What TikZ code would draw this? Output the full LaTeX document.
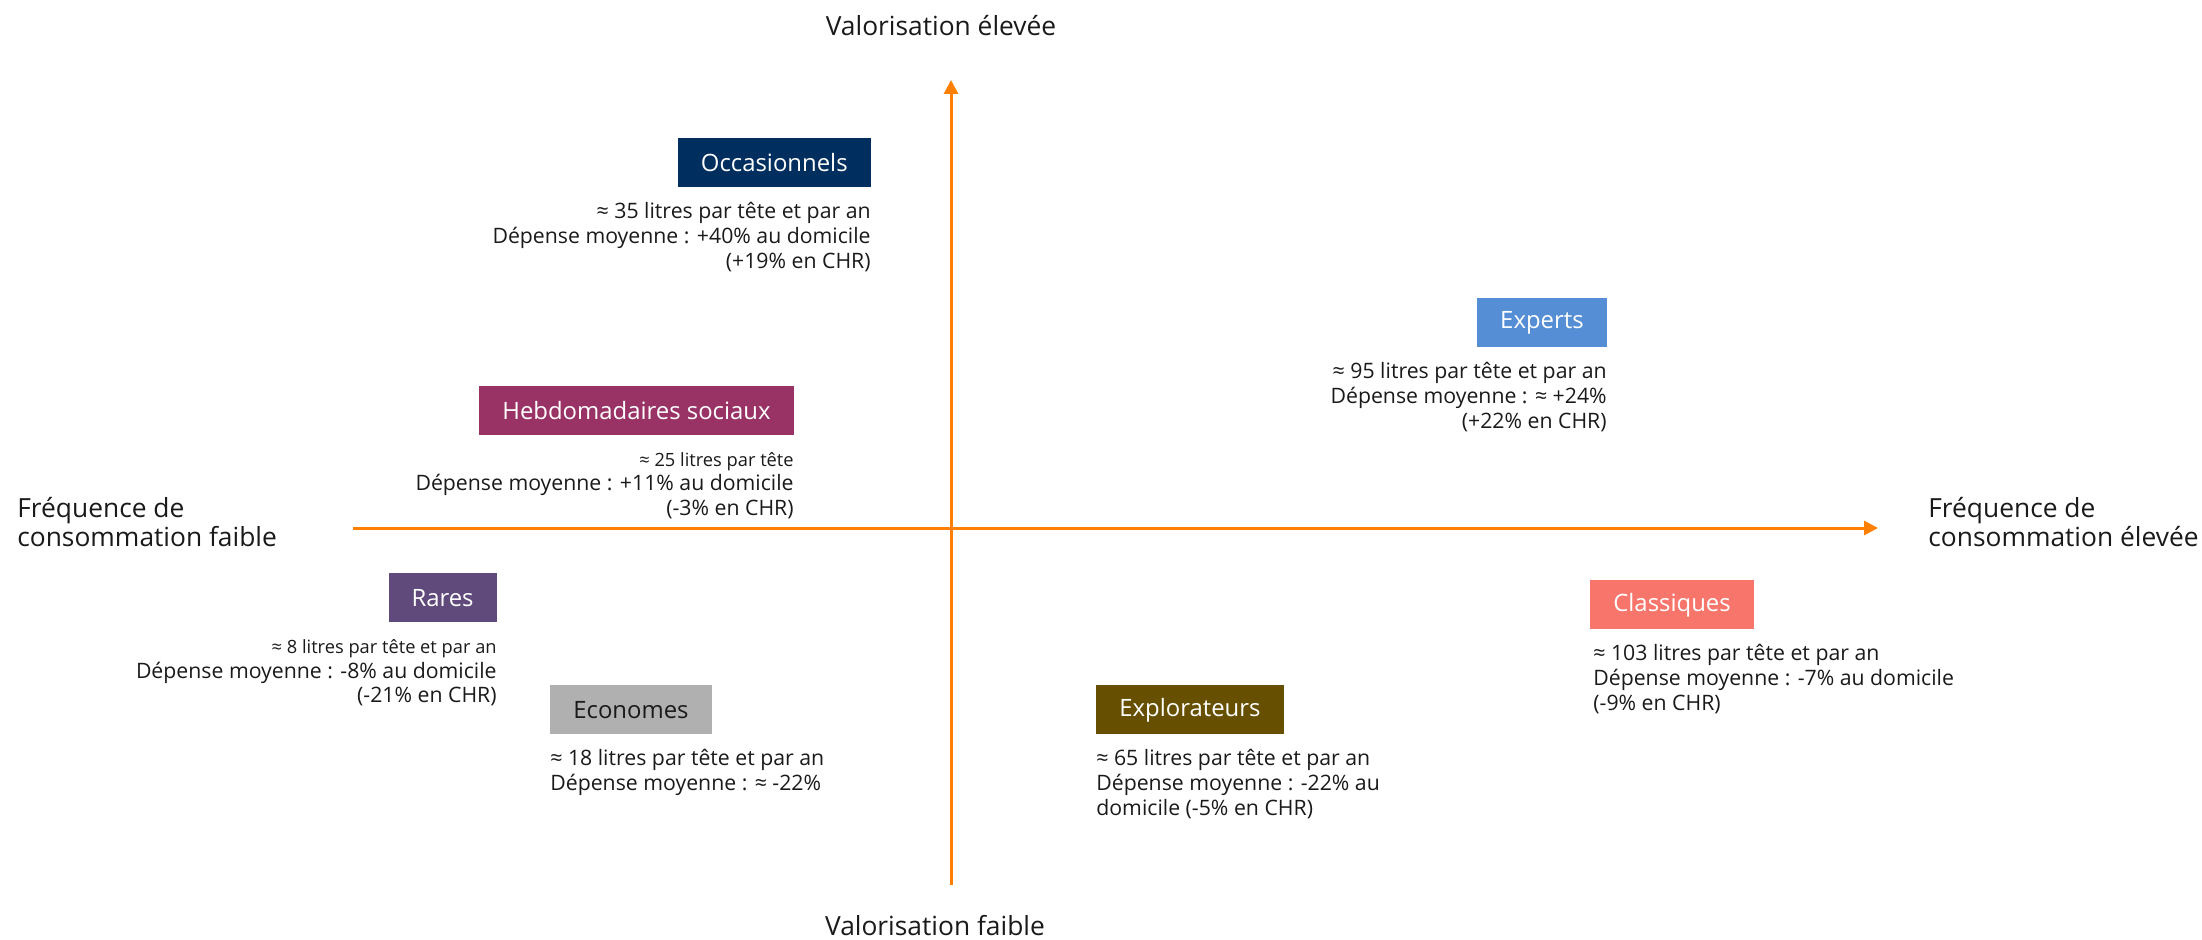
\documentclass[tikz,border=0pt]{standalone}
\usepackage{fontspec}
\setmainfont{Open Sans}
\usepackage{tikz}
\usetikzlibrary{arrows.meta,calc,positioning}

\definecolor{axisorange}{RGB}{255,127,0}
\definecolor{occblue}{RGB}{0,47,95}
\definecolor{hebdoplum}{RGB}{153,51,102}
\definecolor{expblue}{RGB}{85,142,213}
\definecolor{rarepurple}{RGB}{96,74,123}
\definecolor{ecogray}{RGB}{176,176,176}
\definecolor{explobrown}{RGB}{102,80,0}
\definecolor{classred}{RGB}{247,117,106}
\definecolor{txtgray}{RGB}{26,26,26}

\newcommand{\segfont}{\fontsize{13.6}{16}\selectfont}
\newcommand{\infofont}{\fontsize{12.1}{14.2}\selectfont}
\newcommand{\smallinfo}{\fontsize{10.4}{14.2}\selectfont}
\newcommand{\axisfont}{\fontsize{15}{16.5}\selectfont}

\tikzset{
  segbox/.style={fill=#1, text=white, font=\segfont, inner xsep=0.46cm,
    inner ysep=0pt, minimum height=0.98cm},
  inforight/.style={align=right, font=\infofont, text=txtgray, inner sep=0pt},
  infoleft/.style={align=left, font=\infofont, text=txtgray, inner sep=0pt},
  axislabel/.style={font=\axisfont, text=txtgray, inner sep=0pt},
  axisline/.style={draw=axisorange, line width=1.7pt,
    -{Triangle[length=0.28cm,width=0.28cm]}},
}

\begin{document}
\begin{tikzpicture}[x=0.02cm,y=-0.02cm]
        \useasboundingbox (0,0) rectangle (2202,940);

        % Axes
        \coordinate (vbot) at (951,885);
        \coordinate (vtop) at (951,80);
        \coordinate (hleft) at (353,528);
        \coordinate (hright) at (1878,528);
        \draw[axisline] (vbot) -- (vtop);
        \draw[axisline] (hleft) -- (hright);

        \node[axislabel,anchor=base] (valhigh) at (941,35) {Valorisation élevée};
        \node[axislabel,anchor=base] (vallow) at (935,935) {Valorisation faible};
        \node[axislabel,align=left,anchor=north west] (freqlow) at (17,497) {Fréquence de\\consommation faible};
        \node[axislabel,align=left,anchor=north west] (freqhigh) at (1928,497) {Fréquence de\\consommation élevée};

        % Segments, upper left
        \node[segbox=occblue,anchor=north east] (occ) at (871,138) {Occasionnels};
        \node[inforight,anchor=north east] (occtxt) at ($(occ.south east)+(0,14)$)
          {≈ 35 litres par tête et par an\\Dépense moyenne : +40\% au domicile\\(+19\% en CHR)};

        \node[segbox=hebdoplum,anchor=north east] (hebdo) at (794,386) {Hebdomadaires sociaux};
        \node[inforight,anchor=north east] (hebdotxt) at ($(hebdo.south east)+(0,16)$)
          {{\smallinfo ≈ 25 litres par tête}\\Dépense moyenne : +11\% au domicile\\(-3\% en CHR)};

        % Upper right
        \node[segbox=expblue,anchor=north east] (exp) at (1607,298) {Experts};
        \node[inforight,anchor=north east] (exptxt) at ($(exp.south east)+(0,14)$)
          {≈ 95 litres par tête et par an\\Dépense moyenne : ≈ +24\%\\(+22\% en CHR)};

        % Lower left
        \node[segbox=rarepurple,anchor=north east] (rares) at (497,573) {Rares};
        \node[inforight,anchor=north east] (rarestxt) at ($(rares.south east)+(0,16)$)
          {{\smallinfo ≈ 8 litres par tête et par an}\\Dépense moyenne : -8\% au domicile\\(-21\% en CHR)};

        \node[segbox=ecogray,text=txtgray,anchor=north west] (eco) at (550,685) {Economes};
        \node[infoleft,anchor=north west] (ecotxt) at ($(eco.south west)+(0,14)$)
          {≈ 18 litres par tête et par an\\Dépense moyenne : ≈ -22\%};

        % Lower right
        \node[segbox=explobrown,anchor=north west] (explo) at (1096,685) {Explorateurs};
        \node[infoleft,anchor=north west] (explotxt) at ($(explo.south west)+(0,14)$)
          {≈ 65 litres par tête et par an\\Dépense moyenne : -22\% au\\domicile (-5\% en CHR)};

        \node[segbox=classred,anchor=north west] (class) at (1590,580) {Classiques};
        \node[infoleft,anchor=north west] (classtxt) at ($(class.south west)+(3,14)$)
          {≈ 103 litres par tête et par an\\Dépense moyenne : -7\% au domicile\\(-9\% en CHR)};
\end{tikzpicture}
\end{document}
